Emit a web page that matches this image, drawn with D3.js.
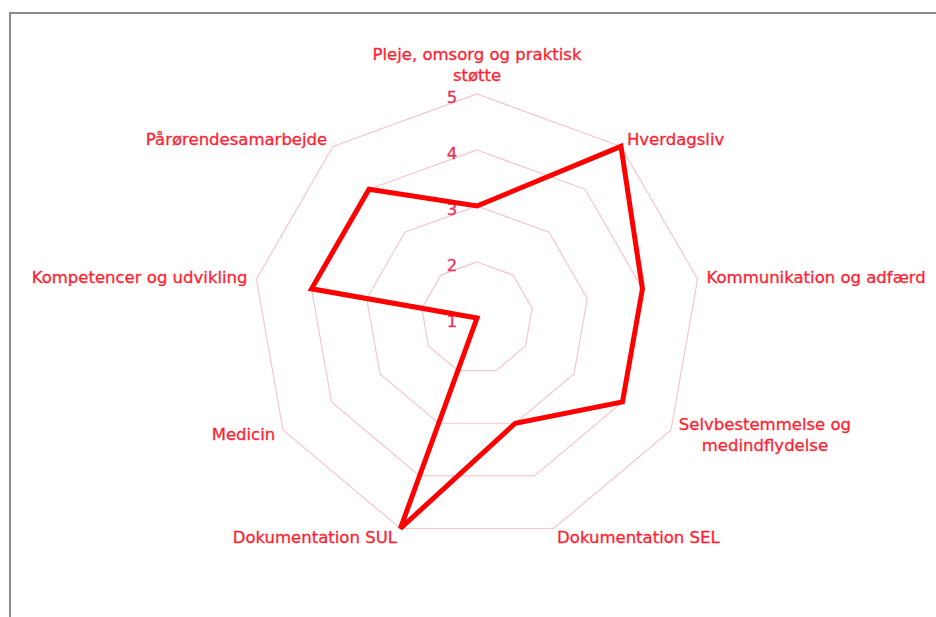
<!DOCTYPE html>
<html>
<head>
<meta charset="utf-8">
<script src="https://cdn.jsdelivr.net/npm/d3@7"></script>
<style>
  body { margin: 0; background: #fff; }
  text { font-family: "DejaVu Sans", Verdana, sans-serif; }
</style>
</head>
<body>
<div id="radarHolder"></div>
<script>

// kategorier (rundt fra toppen, med uret)
var kategorier = [
    ["Pleje, omsorg og praktisk", "støtte"],
    ["Hverdagsliv"],
    ["Kommunikation og adfærd"],
    ["Selvbestemmelse og", "medindflydelse"],
    ["Dokumentation SEL"],
    ["Dokumentation SUL"],
    ["Medicin"],
    ["Kompetencer og udvikling"],
    ["Pårørendesamarbejde"]
];

// score pr. kategori
var scorer = [3, 5, 4, 4, 3, 5, 1, 4, 4];

// akse-værdier
var niveauer = [1, 2, 3, 4, 5];

var width = 936, height = 617;
var cx = 477, cy = 318, radius = 224;

var svg = d3.select("#radarHolder")
    .append("svg")
        .attr("width", width)
        .attr("height", height)
        .style("background-color", "white");

// ramme rundt om diagrammet
svg.append("path")
    .attr("d", "M10," + (height + 5) + "V13H" + (width + 5))
    .style("fill", "none")
    .style("stroke", "#8a8a8a")
    .style("stroke-width", 2);

var rVerdi = d3.scaleLinear()
    .domain([1, 5])
    .range([0, radius]);

var vinkel = d3.scaleLinear()
    .domain([0, kategorier.length])
    .range([0, 2 * Math.PI]);

function punkt(i, r) {
    var a = vinkel(i);
    return [cx + r * Math.sin(a), cy - r * Math.cos(a)];
}

var g = svg.append("g");

// gitter (ni-kanter)
g.selectAll(".ring")
    .data(niveauer.slice(1))
    .enter()
    .append("polygon")
    .attr("class", "ring")
    .attr("points", function(n) {
        return kategorier.map(function(k, i) { return punkt(i, rVerdi(n)).join(","); }).join(" ");
    })
    .style("fill", "none")
    .style("stroke", "#f5c6cc")
    .style("stroke-width", 1.2);

// akse-tal langs toppen
g.selectAll(".niveau")
    .data(niveauer)
    .enter()
    .append("text")
    .attr("class", "niveau")
    .attr("x", cx - 25)
    .attr("y", function(n) { return cy - rVerdi(n) + 3; })
    .attr("dy", "0.35em")
    .attr("text-anchor", "middle")
    .style("font-size", "16.5px")
    .style("fill", "#e8305c")
    .style("stroke", "#e8305c")
    .style("stroke-width", 0.3)
    .text(function(n) { return n; });

// dataserien
var linje = d3.lineRadial()
    .angle(function(d, i) { return vinkel(i); })
    .radius(function(d) { return rVerdi(d); })
    .curve(d3.curveLinearClosed);

g.append("path")
    .datum(scorer)
    .attr("transform", "translate(" + cx + "," + cy + ")")
    .attr("d", linje)
    .style("fill", "none")
    .style("stroke", "#ff0000")
    .style("stroke-width", 5)
    .style("stroke-linejoin", "miter");

// kategori-tekster
var linjeHoejde = 21;
kategorier.forEach(function(linjer, i) {
    var a = vinkel(i);
    var p = punkt(i, radius + 9);
    var s = Math.sin(a);
    var t = g.append("text")
        .attr("text-anchor", "middle")
        .style("font-size", "16.5px")
        .style("fill", "#ff1e32")
        .style("stroke", "#ff1e32")
        .style("stroke-width", 0.3);
    linjer.forEach(function(l, j) {
        t.append("tspan").attr("x", 0).attr("y", j * linjeHoejde).attr("dy", "0.35em").text(l);
    });
    var bredde = t.node().getBBox().width;
    var blokH = (linjer.length - 1) * linjeHoejde;
    var x = p[0], y = p[1] - blokH / 2;
    if (Math.abs(s) < 0.1) {
        y = p[1] - blokH - 10;
    } else if (s > 0) {
        x = p[0] + bredde / 2;
    } else {
        x = p[0] - bredde / 2;
    }
    t.attr("transform", "translate(" + x + "," + y + ")");
});

</script>
</body>
</html>
